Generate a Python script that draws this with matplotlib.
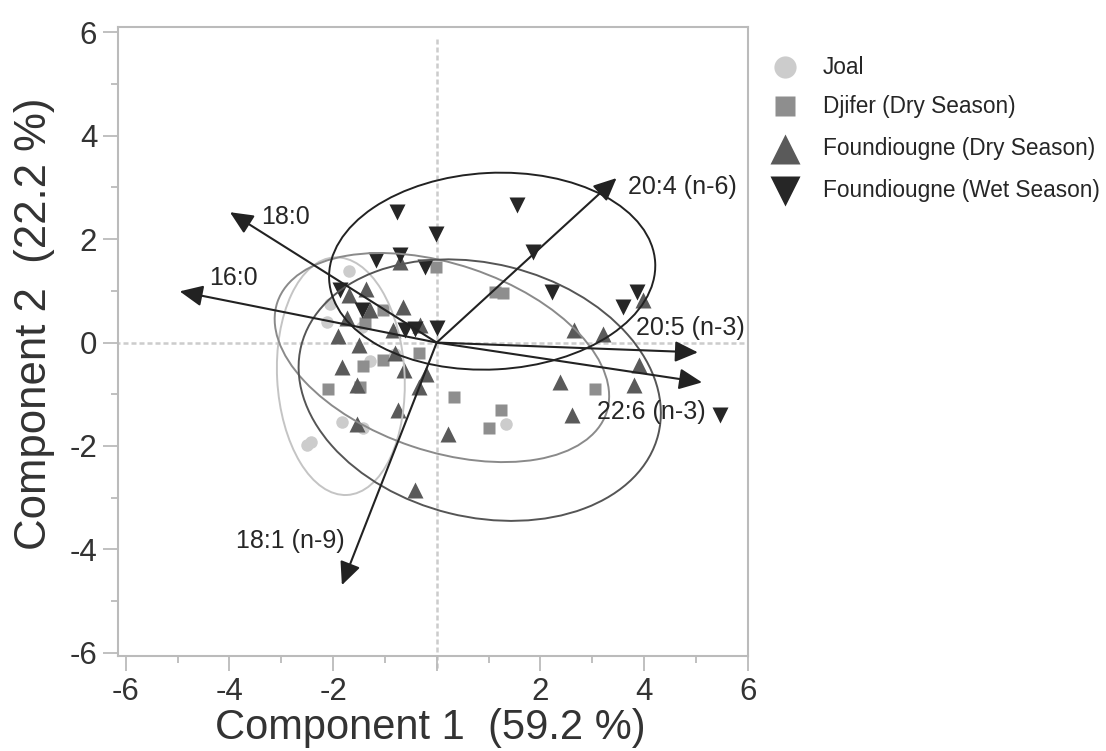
import matplotlib
matplotlib.use("Agg")
import matplotlib.pyplot as plt
from matplotlib.patches import Ellipse
from matplotlib.lines import Line2D

plt.rcParams['font.family'] = ['Liberation Sans', 'DejaVu Sans']

# --- scores ---
joal_x = [-1.69, -2.05, -2.11, -1.45, -1.29, -0.81, -1.82, -1.42, -2.51, -2.42, 1.34]
joal_y = [1.38, 0.75, 0.40, 0.30, -0.36, -0.23, -1.54, -1.65, -1.99, -1.92, -1.57]

djifer_x = [-0.02, -1.04, -1.39, -1.04, -0.34, -1.42, -2.09, -1.48, 0.34, 1.01, 1.12, 1.27, 3.05, 1.25]
djifer_y = [1.47, 0.62, 0.37, -0.34, -0.20, -0.46, -0.89, -0.85, -1.05, -1.66, 0.97, 0.95, -0.89, -1.31]

fdry_x = [-0.70, -1.70, -1.37, -1.29, -0.66, -1.73, -1.90, -0.84, -0.32, -1.50, -0.81, -1.82, -0.63,
          -0.20, -0.34, -1.53, -0.74, -1.53, 0.22, -0.42, 3.99, 2.65, 3.21, 3.91, 2.38, 3.81, 2.62]
fdry_y = [1.56, 0.91, 1.04, 0.62, 0.69, 0.48, 0.12, 0.25, 0.33, -0.05, -0.20, -0.47, -0.54,
          -0.61, -0.86, -0.83, -1.31, -1.57, -1.77, -2.85, 0.82, 0.24, 0.17, -0.44, -0.76, -0.83, -1.41]

fwet_x = [-0.02, -1.17, -0.70, -0.22, -1.86, -1.45, -0.61, -0.42, 0.01, -0.77, 1.55, 1.86, 2.22, 3.86, 3.59, 5.47]
fwet_y = [2.10, 1.60, 1.70, 1.46, 1.02, 0.62, 0.25, 0.27, 0.29, 2.52, 2.65, 1.75, 0.98, 0.98, 0.69, -1.41]

# --- loadings (arrow tips) and their labels ---
vec_names = ['18:0', '16:0', '20:4 (n-6)', '20:5 (n-3)', '22:6 (n-3)', '18:1 (n-9)']
vec_x = [-3.99, -4.96, 3.47, 5.04, 5.12, -1.83]
vec_y = [2.52, 0.99, 3.18, -0.19, -0.77, -4.69]
lab_x = [-3.39, -4.39, 3.69, 3.84, 3.09, -3.87]
lab_y = [2.42, 1.24, 3.00, 0.29, -1.35, -3.84]

# --- ellipses: centre x, centre y, width, height, angle ---
ell_cx = [-1.85, 0.10, 0.83, 1.07]
ell_cy = [-0.65, -0.29, -0.92, 1.38]
ell_w = [2.46, 6.70, 7.10, 6.30]
ell_h = [4.60, 3.62, 4.90, 3.80]
ell_ang = [3, -18.6, -14, 3]

groups = ['Joal', 'Djifer (Dry Season)', 'Foundiougne (Dry Season)', 'Foundiougne (Wet Season)']
colors = ['#cccccc', '#8e8e8e', '#5a5a5a', '#262626']
ell_colors = ['#c4c4c4', '#8a8a8a', '#555555', '#222222']
markers = ['o', 's', '^', 'v']
msizes = [9, 9, 11, 11]
leg_msizes = [16, 15, 21, 21]

fig = plt.figure(figsize=(11.06, 7.51), dpi=100)
ax = fig.add_axes([0.1067, 0.1265, 0.5693, 0.8375])

# zero lines
ax.plot([-6.2, 6.0], [0, 0], color='#cccccc', lw=1.8, ls=(0, (2, 1.2)), zorder=1)
ax.plot([0, 0], [-6.3, 5.9], color='#cccccc', lw=1.8, ls=(0, (2, 1.2)), zorder=1, clip_on=False)

data = [(joal_x, joal_y), (djifer_x, djifer_y), (fdry_x, fdry_y), (fwet_x, fwet_y)]
for (xs, ys), c, m, ms in zip(data, colors, markers, msizes):
    ax.plot(xs, ys, ls='none', marker=m, ms=ms, color=c, mec='none', zorder=2)

for cx, cy, w, h, a, c in zip(ell_cx, ell_cy, ell_w, ell_h, ell_ang, ell_colors):
    ax.add_patch(Ellipse((cx, cy), w, h, angle=a, fill=False, edgecolor=c, lw=1.4, zorder=3))

for name, vx, vy, tx, ty in zip(vec_names, vec_x, vec_y, lab_x, lab_y):
    ax.annotate('', xy=(vx, vy), xytext=(0, 0),
                arrowprops=dict(arrowstyle='-|>,head_length=0.7,head_width=0.32',
                                color='#222222', lw=1.5, mutation_scale=20,
                                shrinkA=0, shrinkB=0), zorder=4)
    ax.text(tx, ty, name, ha='left', va='center', fontsize=18, color='#262626', zorder=5)

ax.set_xlim(-6.15, 6.0)
ax.set_ylim(-6.06, 6.1)
ax.set_xticks([-6, -4, -2, 0, 2, 4, 6])
ax.set_xticklabels(['-6', '-4', '-2', '', '2', '4', '6'])
ax.set_yticks([-6, -4, -2, 0, 2, 4, 6])
ax.set_yticklabels(['-6', '-4', '-2', '0', '2', '4', '6'])
ax.set_xticks([-5, -3, -1, 1, 3, 5], minor=True)
ax.set_yticks([-5, -3, -1, 1, 3, 5], minor=True)
ax.tick_params(which='major', length=11, width=1.3, color='#bbbbbb', labelsize=22.5,
               labelcolor='#333333', pad=4)
ax.tick_params(which='minor', length=5, width=1.3, color='#bbbbbb')
for s in ax.spines.values():
    s.set_color('#bbbbbb')
    s.set_linewidth(1.5)

fig.text(0.389, 1 - 739 / 751, 'Component 1  (59.2 %)', ha='center', va='baseline',
         fontsize=30, color='#333333')
fig.text(0.013, 1 - 324 / 751, 'Component 2  (22.2 %)', ha='left', va='center', rotation=90,
         fontsize=31.5, color='#333333')

# legend
leg_y = [67, 106, 148.5, 190.5]
for g, c, m, ms, py in zip(groups, colors, markers, leg_msizes, leg_y):
    yf = 1 - py / 751
    fig.add_artist(Line2D([785 / 1106], [yf], transform=fig.transFigure, ls='none',
                          marker=m, ms=ms, color=c, mec='none'))
    fig.text(823 / 1106, yf, g, ha='left', va='center', fontsize=16.3, color='#262626')

fig.savefig('out.png', dpi=100)
